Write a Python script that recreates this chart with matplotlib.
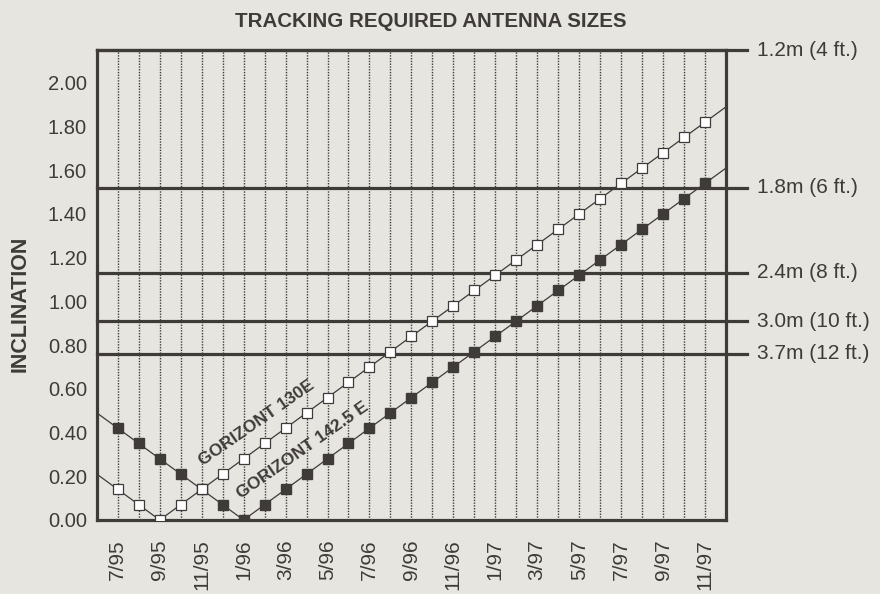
import numpy as np
import matplotlib.pyplot as plt

plt.rcParams['font.family'] = ['Liberation Sans', 'DejaVu Sans']

# month index 0 = 7/95 ... 28 = 11/97; lines run from 6/95 (-1) to 12/97 (29)
months = list(range(-1, 30))
month_labels = ['7/95', '', '9/95', '', '11/95', '', '1/96', '', '3/96', '', '5/96', '',
                '7/96', '', '9/96', '', '11/96', '', '1/97', '', '3/97', '', '5/97', '',
                '7/97', '', '9/97', '', '11/97']

# inclination
gorizont_130 = [0.21, 0.14, 0.07, 0.00, 0.07, 0.14, 0.21, 0.28, 0.35, 0.42, 0.49,
                0.56, 0.63, 0.70, 0.77, 0.84, 0.91, 0.98, 1.05, 1.12, 1.19, 1.26,
                1.33, 1.40, 1.47, 1.54, 1.61, 1.68, 1.75, 1.82, 1.89]
gorizont_1425 = [0.49, 0.42, 0.35, 0.28, 0.21, 0.14, 0.07, 0.00, 0.07, 0.14, 0.21,
                 0.28, 0.35, 0.42, 0.49, 0.56, 0.63, 0.70, 0.77, 0.84, 0.91, 0.98,
                 1.05, 1.12, 1.19, 1.26, 1.33, 1.40, 1.47, 1.54, 1.61]

# antenna size thresholds
size_levels = [2.15, 1.52, 1.13, 0.91, 0.76]
size_labels = ['1.2m (4 ft.)', '1.8m (6 ft.)', '2.4m (8 ft.)', '3.0m (10 ft.)', '3.7m (12 ft.)']

bg = '#e7e5e0'
ink = '#3e3b39'

fig = plt.figure(figsize=(8.8, 5.94), dpi=100, facecolor=bg)
ax = fig.add_axes([0.110, 0.1246, 0.715, 0.7912], facecolor=bg)

ax.set_xlim(-1, 29)
ax.set_ylim(0, 2.15)

# monthly dotted grid
ax.set_xticks(range(0, 29))
ax.set_xticklabels(month_labels, rotation=90, fontsize=15, color=ink)
ax.grid(axis='x', color=ink, linestyle=(0, (1, 1)), linewidth=1.0)
ax.set_axisbelow(True)

ax.set_yticks(np.arange(0, 2.01, 0.2))
ax.set_yticklabels(['%.2f' % v for v in np.arange(0, 2.01, 0.2)], fontsize=14.5, color=ink)
ax.tick_params(length=0, pad=7)
ax.tick_params(axis='x', pad=14)

for s in ax.spines.values():
    s.set_linewidth(2.3)
    s.set_color(ink)

# thresholds that run past the right edge
for lvl, lab in zip(size_levels, size_labels):
    ax.plot([-1, 30], [lvl, lvl], color=ink, linewidth=2.3, clip_on=False, zorder=2)
    ax.text(30.5, lvl, lab, fontsize=15, color=ink, va='center', ha='left', clip_on=False)

marker_idx = list(range(1, 30))
ax.plot(months, gorizont_130, color=ink, linewidth=0.9, marker='s', markersize=6.5,
        markerfacecolor='white', markeredgecolor=ink, markeredgewidth=0.9,
        markevery=marker_idx, zorder=4)
ax.plot(months, gorizont_1425, color=ink, linewidth=0.9, marker='s', markersize=6.5,
        markerfacecolor=ink, markeredgecolor=ink, markevery=marker_idx, zorder=3)

ax.text(6.6, 0.445, 'GORIZONT 130E', rotation=35, fontsize=12.5, fontweight='bold',
        color=ink, ha='center', va='center', rotation_mode='anchor', zorder=5)
ax.text(8.8, 0.317, 'GORIZONT 142.5 E', rotation=35, fontsize=12.5, fontweight='bold',
        color=ink, ha='center', va='center', rotation_mode='anchor', zorder=5)

ax.set_ylabel('INCLINATION', fontsize=15.5, fontweight='bold', color=ink)
ax.yaxis.set_label_coords(-0.105, 0.46)

fig.text(0.489, 0.963, 'TRACKING REQUIRED ANTENNA SIZES', fontsize=14.8, fontweight='bold',
         color=ink, ha='center', va='center')

fig.savefig('out.png', dpi=100, facecolor=bg)
